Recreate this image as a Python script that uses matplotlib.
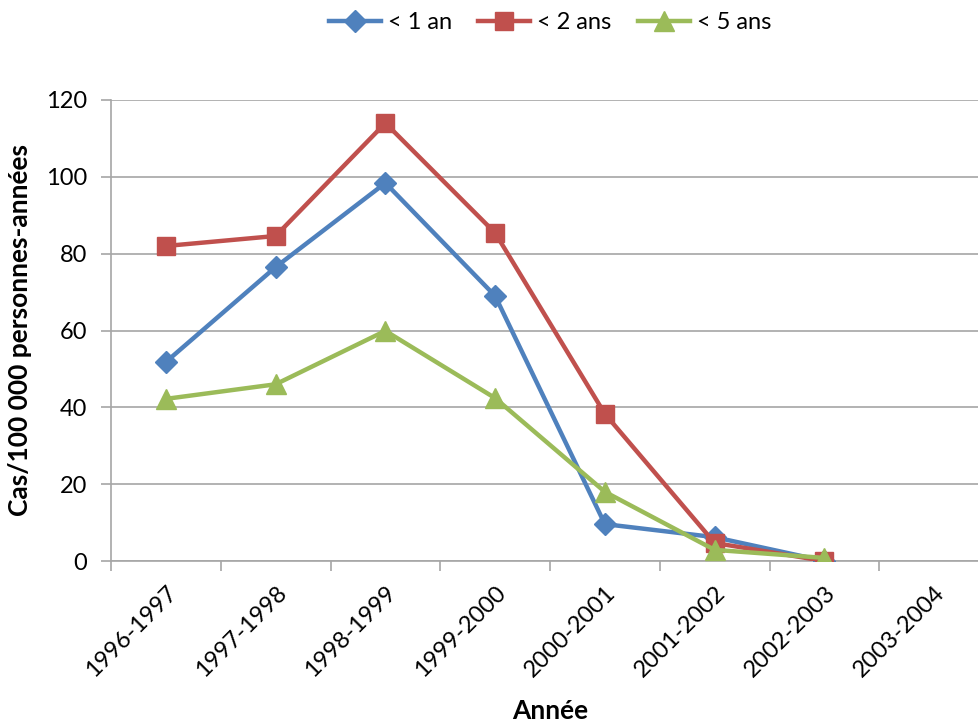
import matplotlib
matplotlib.use("Agg")
import matplotlib.pyplot as plt
from matplotlib.ticker import FixedLocator

categories = ["1996-1997", "1997-1998", "1998-1999", "1999-2000",
              "2000-2001", "2001-2002", "2002-2003", "2003-2004"]
lt1 = [51.8, 76.5, 98.4, 69.0, 9.6, 6.2, 0.0]
lt2 = [82.0, 84.6, 114.0, 85.4, 38.3, 4.7, 0.0]
lt5 = [42.2, 46.0, 59.9, 42.4, 18.0, 2.9, 0.8]
series_names = ["< 1 an", "< 2 ans", "< 5 ans"]
yticks = [0, 20, 40, 60, 80, 100, 120]

plt.rcParams['font.family'] = ['Lato', 'DejaVu Sans']

fig = plt.figure(figsize=(9.79, 7.21), dpi=100)
ax = fig.add_axes([111/979, 1-561/721, 878/979, 461/721])

grey = "#a6a6a6"
x = list(range(len(lt1)))
l1, = ax.plot(x, lt1, color="#4F81BD", lw=3.2, marker="D", ms=11, label=series_names[0], zorder=3)
l2, = ax.plot(x, lt2, color="#C0504D", lw=3.2, marker="s", ms=13, label=series_names[1], zorder=3)
l3, = ax.plot(x, lt5, color="#9BBB59", lw=3.2, marker="^", ms=14, label=series_names[2], zorder=4)

ax.set_xlim(-0.5, len(categories) - 0.5)
ax.set_ylim(0, 120)
ax.set_yticks(yticks)
ax.set_xticks(range(len(categories)))
ax.set_xticklabels(categories, rotation=45, ha="right", rotation_mode="anchor", fontsize=17)
ax.xaxis.set_minor_locator(FixedLocator([i - 0.5 for i in range(len(categories) + 1)]))
ax.tick_params(axis="x", which="major", length=0, pad=15)
ax.tick_params(axis="x", which="minor", length=7, color=grey, width=1.2)
ax.tick_params(axis="y", length=7, color=grey, width=1.2, labelsize=17, pad=10)
ax.yaxis.grid(True, color=grey, lw=1.2)
ax.set_axisbelow(True)
for s in ["top", "right"]:
    ax.spines[s].set_visible(False)
for s in ["left", "bottom"]:
    ax.spines[s].set_color(grey)
    ax.spines[s].set_linewidth(1.2)

ax.set_ylabel("Cas/100 000 personnes-années", fontsize=19, fontweight="bold", labelpad=10)
ax.set_xlabel("Année", fontsize=19, fontweight="bold", labelpad=13)

fig.legend(handles=[l1, l2, l3], loc="center", bbox_to_anchor=(0.562, 0.969), ncol=3,
           frameon=False, fontsize=17, handlelength=2.2, columnspacing=1.1, handletextpad=0.3)

fig.savefig("out.png", dpi=100)
